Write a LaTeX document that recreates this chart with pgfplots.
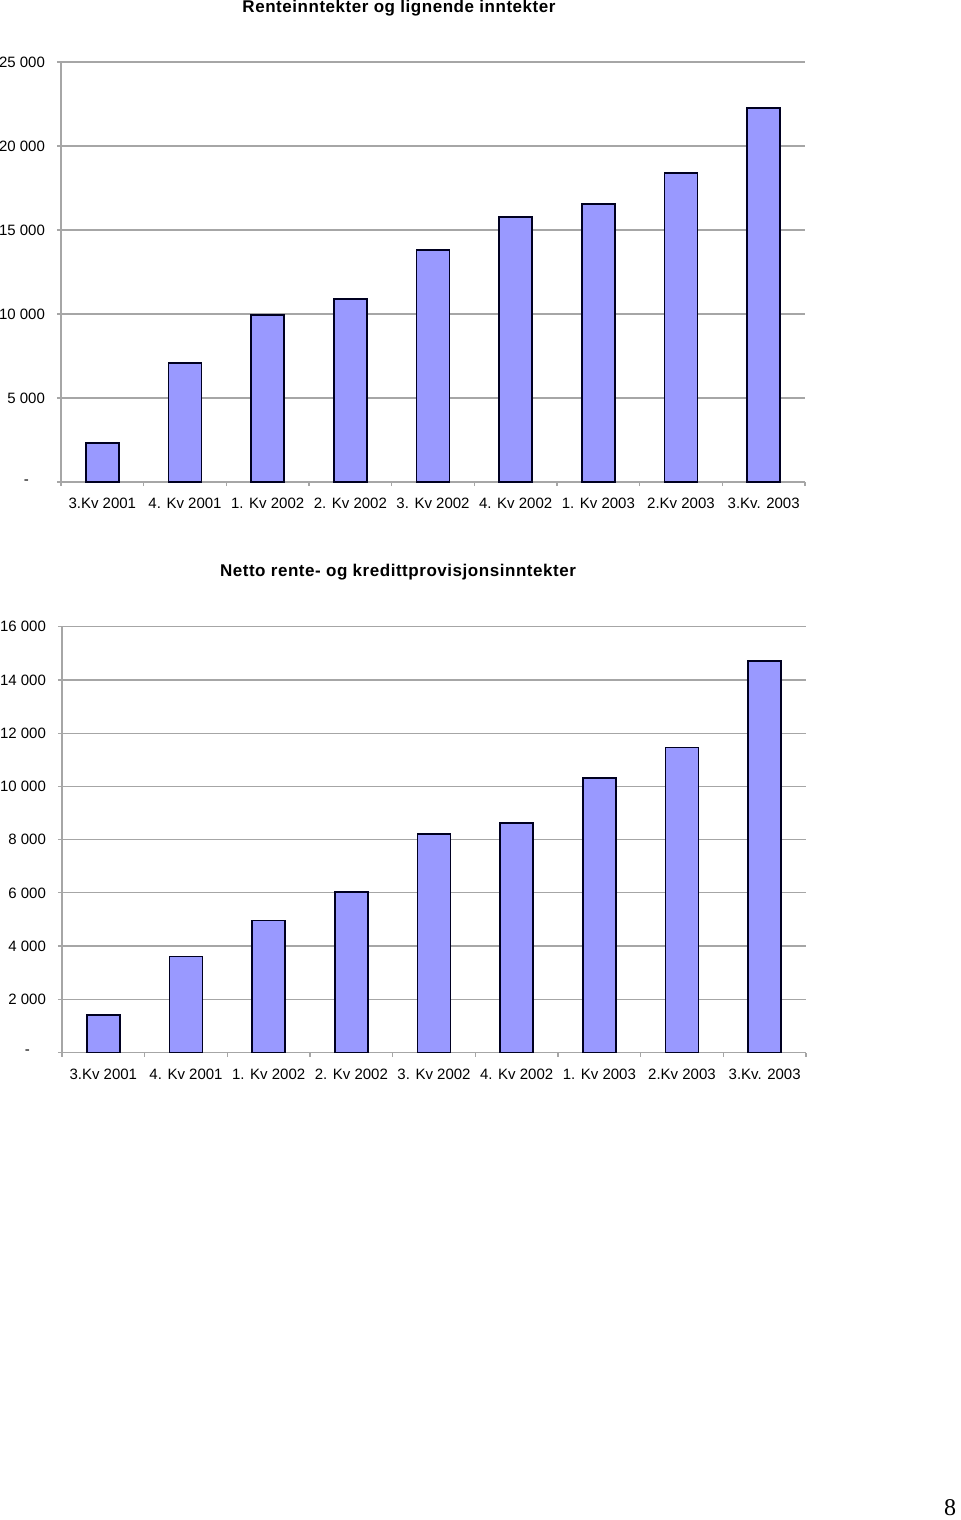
\documentclass[border=0pt]{standalone}
\usepackage{fontspec}
\setmainfont{Liberation Sans}
\newfontfamily\serifnum{Liberation Serif}
\newfontfamily\titlefont[LetterSpace=3.2]{Liberation Sans}
\usepackage{pgfplots}
\pgfplotsset{compat=1.18}

\definecolor{barfill}{HTML}{9999FF}
\definecolor{baredge}{HTML}{000020}
\definecolor{gridgray}{HTML}{A6A6A6}

\pgfplotsset{
 kvstyle/.style={
  width=372pt, scale only axis,
  xmin=-0.5, xmax=8.5, ymin=0,
  axis x line*=bottom, axis y line*=left,
  axis line style={draw=gridgray, line width=0.6pt},
  ymajorgrids, grid style={draw=gridgray, line width=0.6pt},
  tick align=outside, major tick length=2pt,
  tick style={draw=gridgray, line width=0.6pt},
  scaled y ticks=false,
  xtick={-0.5,0.5,1.5,2.5,3.5,4.5,5.5,6.5,7.5,8.5}, xticklabels={},
  extra x ticks={0,1,2,3,4,5,6,7,8},
  extra x tick labels={3.Kv 2001, 4. Kv 2001, 1. Kv 2002, 2. Kv 2002, 3. Kv 2002, 4. Kv 2002, 1. Kv 2003, 2.Kv 2003, 3.Kv. 2003},
  extra x tick style={major tick length=0pt, xticklabel style={yshift=-4.5pt}},
  tick label style={font=\fontsize{7.5}{9}\selectfont},
  yticklabel style={xshift=-2.5pt},
  ybar, bar width=16.5pt,
 }
}

\begin{document}
\begin{tikzpicture}
\useasboundingbox (0,0) rectangle (480pt,-760pt);

\node[font=\titlefont\bfseries\fontsize{8.5}{10}\selectfont] at (199.5pt,-4pt) {Renteinntekter og lignende inntekter};

\begin{axis}[kvstyle, height=210pt, at={(30.5pt,-241pt)}, anchor=south west,
  ymax=25000, ytick={0,5000,10000,15000,20000,25000},
  yticklabels={-\hspace*{8pt}, 5 000, 10 000, 15 000, 20 000, 25 000}]
\addplot[fill=barfill, draw=baredge, line width=0.9pt] coordinates {(0,2340) (1,7100) (2,9920) (3,10890) (4,13790) (5,15790) (6,16550) (7,18390) (8,22260)};
\end{axis}

\node[font=\titlefont\bfseries\fontsize{8.5}{10}\selectfont] at (199pt,-286pt) {Netto rente- og kredittprovisjonsinntekter};

\begin{axis}[kvstyle, height=212.9pt, at={(31pt,-526.25pt)}, anchor=south west,
  ymax=16000, ytick={0,2000,4000,6000,8000,10000,12000,14000,16000},
  yticklabels={-\hspace*{8pt}, 2 000, 4 000, 6 000, 8 000, 10 000, 12 000, 14 000, 16 000}]
\addplot[fill=barfill, draw=baredge, line width=0.9pt] coordinates {(0,1410) (1,3610) (2,4960) (3,6040) (4,8200) (5,8630) (6,10320) (7,11460) (8,14710)};
\end{axis}

\node[font=\serifnum\fontsize{12}{14}\selectfont] at (475pt,-754pt) {8};
\end{tikzpicture}
\end{document}
